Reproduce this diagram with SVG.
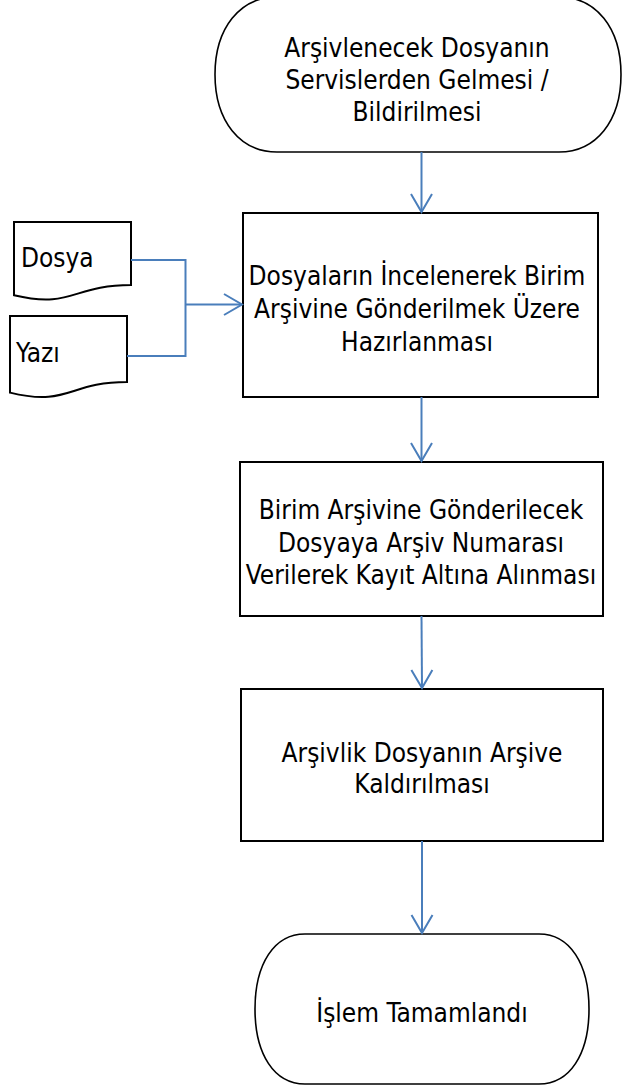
<svg xmlns="http://www.w3.org/2000/svg" width="622" height="1087" viewBox="0 0 622 1087">
<style>
.shape{fill:#fff;stroke:#000;stroke-width:2}
.term{fill:#fff;stroke:#000;stroke-width:1.6}
.t{font-family:"DejaVu Sans Condensed","DejaVu Sans",sans-serif;font-size:26px;fill:#000;text-anchor:middle}
.tl{font-family:"DejaVu Sans Condensed","DejaVu Sans",sans-serif;font-size:26px;fill:#000}
.c{fill:none;stroke:#4a7ebb;stroke-width:2}
</style>
<defs>
<marker id="arr" markerUnits="userSpaceOnUse" markerWidth="24" markerHeight="24" viewBox="-20 -12 24 24" refX="0" refY="0" orient="auto">
<path d="M-18,-10.5 L0,0 L-18,10.5" fill="none" stroke="#4a7ebb" stroke-width="2"/>
</marker>
</defs>
<rect width="622" height="1087" fill="#fff"/>
<g id="start">
<path class="term" d="M277,-3 H559 C596,-3 621,28 621,74.5 C621,121 596,152 559,152 H277 C240,152 215,121 215,74.5 C215,28 240,-3 277,-3 Z"/>
<text class="t" x="417" y="57">Arşivlenecek Dosyanın</text>
<text class="t" x="417" y="89">Servislerden Gelmesi /</text>
<text class="t" x="417" y="121">Bildirilmesi</text>
</g>
<g id="dosya">
<path class="shape" d="M14,222 H131 V285 C72.5,285 72.5,309 14,295.3 Z"/>
<text class="tl" x="21" y="267">Dosya</text>
</g>
<g id="yazi">
<path class="shape" d="M10,316 H127 V382 C68.5,382 68.5,407 10,392.6 Z"/>
<text class="tl" x="16" y="362">Yazı</text>
</g>
<g id="hazirlama">
<rect class="shape" x="243" y="213" width="355" height="184"/>
<text class="t" x="417" y="285">Dosyaların İncelenerek Birim</text>
<text class="t" x="417" y="318">Arşivine Gönderilmek Üzere</text>
<text class="t" x="417" y="351">Hazırlanması</text>
</g>
<g id="kayit">
<rect class="shape" x="240" y="462" width="363" height="154"/>
<text class="t" x="421" y="519">Birim Arşivine Gönderilecek</text>
<text class="t" x="421" y="552">Dosyaya Arşiv Numarası</text>
<text class="t" x="421" y="584">Verilerek Kayıt Altına Alınması</text>
</g>
<g id="kaldirma">
<rect class="shape" x="241" y="689" width="362" height="152"/>
<text class="t" x="422" y="762">Arşivlik Dosyanın Arşive</text>
<text class="t" x="422" y="793">Kaldırılması</text>
</g>
<g id="end">
<path class="term" d="M305,934 H539 C570,934 589,964 589,1009 C589,1054 570,1084 539,1084 H305 C274,1084 255,1054 255,1009 C255,964 274,934 305,934 Z"/>
<text class="t" x="422" y="1022">İşlem Tamamlandı</text>
</g>
<g id="connectors">
<path class="c" d="M131,260 H185.5 V356 H127"/>
<path class="c" d="M185.5,304.5 H242" marker-end="url(#arr)"/>
<path class="c" d="M421.5,152 V212" marker-end="url(#arr)"/>
<path class="c" d="M421.5,397 V461" marker-end="url(#arr)"/>
<path class="c" d="M421.5,616 L422,688" marker-end="url(#arr)"/>
<path class="c" d="M422,841 V933" marker-end="url(#arr)"/>
</g>
</svg>
